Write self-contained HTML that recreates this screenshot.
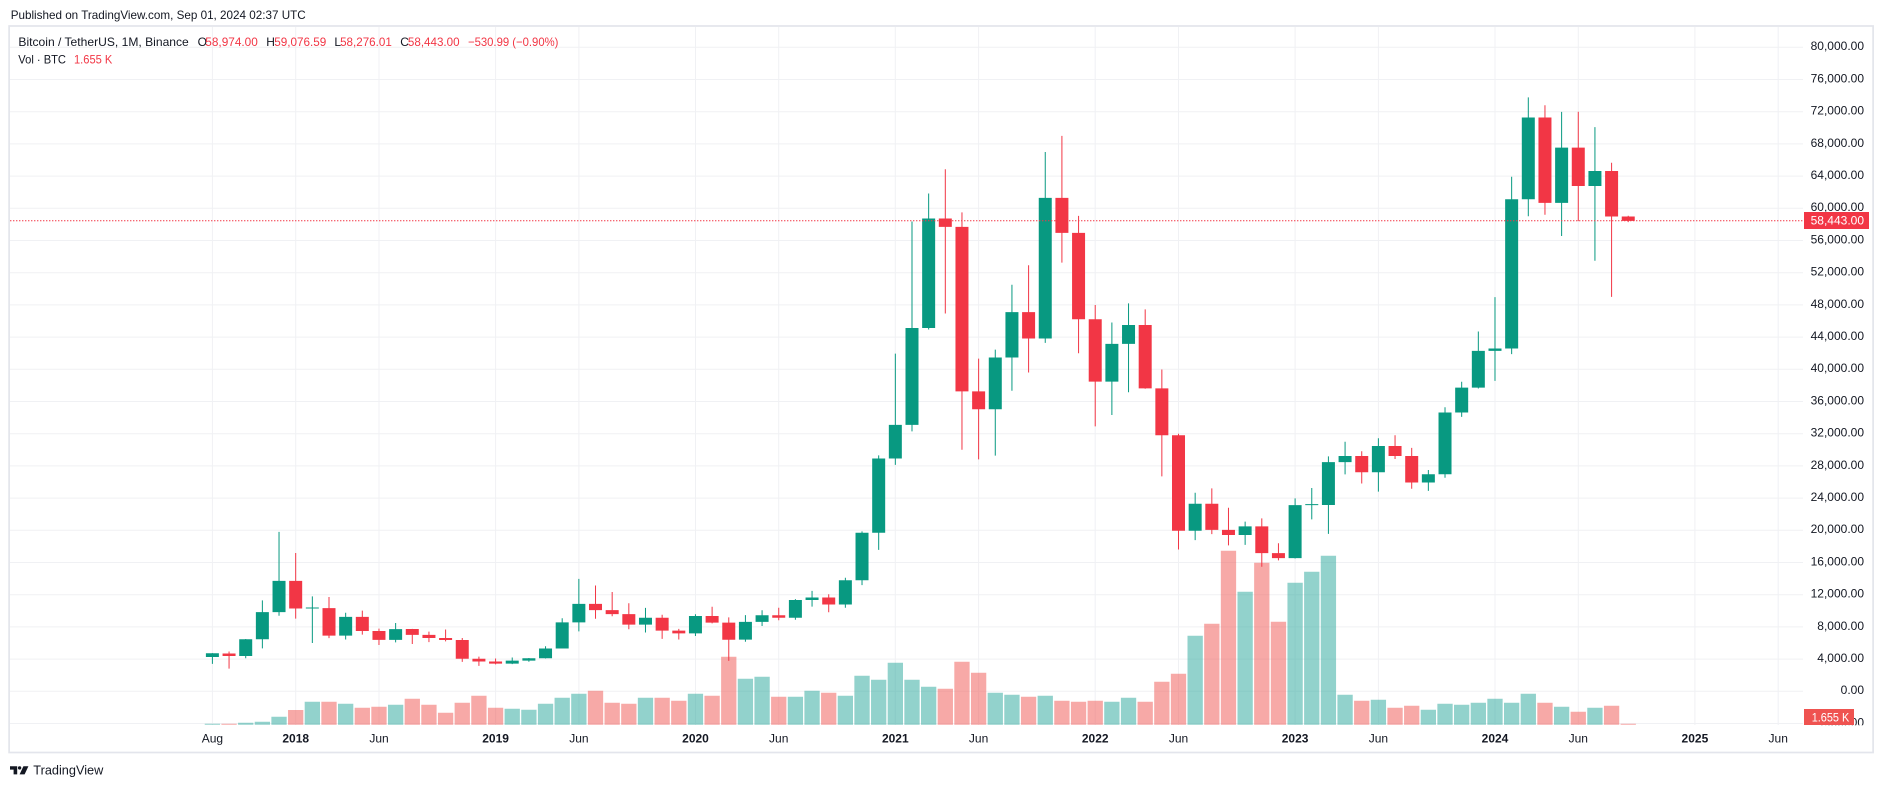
<!DOCTYPE html>
<html><head><meta charset="utf-8"><style>
html,body{margin:0;padding:0;background:#fff}
svg{display:block}
text{font-family:"Liberation Sans",Arial,sans-serif;font-size:12px;fill:#131722}
.p path,.v path{vector-effect:non-scaling-stroke;fill:none;stroke-linecap:butt}
.w{stroke-width:1px}
.b{stroke-width:13px}
.v path{stroke-width:15.3px}
.r{fill:#f23645}
.yr{font-weight:bold}
</style></head><body>
<svg width="1883" height="788" viewBox="0 0 1883 788" xmlns="http://www.w3.org/2000/svg">
<rect width="1883" height="788" fill="#fff"/>
<defs><clipPath id="ax"><rect x="1803" y="27" width="70" height="698.3"/></clipPath>
<clipPath id="pn"><rect x="10" y="27" width="1793" height="698.3"/></clipPath></defs>

<text x="10.7" y="19" textLength="295" lengthAdjust="spacingAndGlyphs">Published on TradingView.com, Sep 01, 2024 02:37 UTC</text>

<!-- grid -->
<path stroke="#f0f1f4" stroke-width="1" fill="none" d="M10 47.3H1803M10 79.5H1803M10 111.7H1803M10 143.9H1803M10 176.1H1803M10 208.3H1803M10 240.5H1803M10 272.7H1803M10 304.9H1803M10 337.1H1803M10 369.3H1803M10 401.5H1803M10 433.7H1803M10 465.9H1803M10 498.1H1803M10 530.3H1803M10 562.5H1803M10 594.7H1803M10 626.9H1803M10 659.1H1803M10 691.3H1803M10 723.5H1803
M212.4 27V725M295.7 27V725M379 27V725M495.6 27V725M578.9 27V725M695.5 27V725M778.7 27V725M895.3 27V725M978.6 27V725M1095.2 27V725M1178.5 27V725M1295.1 27V725M1378.4 27V725M1495 27V725M1578.3 27V725M1694.9 27V725M1778.2 27V725"/>

<g clip-path="url(#pn)">
<!-- volume -->
<g class="v" transform="matrix(16.657 0 0 1 212.4 724.7)">
<path stroke="rgba(38,166,154,0.5)" d="M0 0v-1M2 0v-2M3 0v-3M4 0v-8M6 0v-23M8 0v-21M11 0v-20M18 0v-16M19 0v-15M20 0v-21M21 0v-27M22 0v-31M26 0v-27M29 0v-31M32 0v-46M33 0v-48M35 0v-28M36 0v-34M38 0v-29M39 0v-49M40 0v-45M41 0v-62M42 0v-45M43 0v-38M47 0v-32M48 0v-30M50 0v-29M54 0v-23M55 0v-27M59 0v-89M62 0v-133M65 0v-142M66 0v-153M67 0v-169M68 0v-30M70 0v-25M73 0v-15M74 0v-21M75 0v-20M76 0v-22M77 0v-26M78 0v-22M79 0v-31M81 0v-18M83 0v-17"/>
<path stroke="rgba(239,83,80,0.5)" d="M1 0v-1M5 0v-14.7M7 0v-23M9 0v-17M10 0v-18M12 0v-26M13 0v-20M14 0v-12M15 0v-22M16 0v-29M17 0v-17M23 0v-34M24 0v-22M25 0v-21M27 0v-27M28 0v-24M30 0v-29M31 0v-68M34 0v-28M37 0v-32M44 0v-36M45 0v-63M46 0v-52M49 0v-28M51 0v-24M52 0v-23M53 0v-24M56 0v-23M57 0v-43M58 0v-51M60 0v-101M61 0v-174M63 0v-162M64 0v-103M69 0v-24M71 0v-17M72 0v-19M80 0v-22M82 0v-13M84 0v-19M85 0v-1"/>
</g>

<!-- candles -->
<g class="p" transform="matrix(16.657 0 0 -0.00805 212.4 691.3)">
<g stroke="#089981">
<path class="w" d="M0 3400V4745.42M2 4110V6498.01M3 5325.01V11300.03M4 9380V19798.68M6 6000.01V11786.01M8 6430V9759.82M11 6070V8491.77M18 3373.1V4198M19 3670.69V4140M20 4067V5600M21 5316.2V9074.26M22 7444.58V13970M26 7300V10370M29 6871.04V9578M32 6150.11V9460M33 8117V10067M35 8893.03V11444M36 10518.5V12468M38 10374V14100M39 13195.05V19863.16M40 17572.33V29300M41 28130V41950M42 32296.16V58352.8M43 44950.53V61844M47 29278V42448M48 37332.7V50500M50 43283.03V67000M54 34322.28V45821M55 37155V48189.84M59 18781.34V24668M62 18190V21085M65 16499.01V23960.54M66 21351.07V25250M67 19549.09V29184.68M68 26942.82V31000M70 24800V31431.94M73 24901V27483.57M74 26521.32V35280M75 34097.39V38450M76 37615.86V44700M77 38555V48969.48M78 41884.64V63913.13M79 59005V73777M81 56552.82V71979M83 53485.93V70079.99"/>
<path class="b" d="M0 4261.48V4724.89M2 4378.49V6463M3 6463V9838.96M4 9837V13716.36M6 10285.1V10410M8 6922V9246.01M11 6391.08V7730.93M18 3434.1V3813.69M19 3814.26V4103.95M20 4102.44V5320.81M21 5321.94V8555M22 8555V10854.1M26 8289.97V9140.86M29 7195.24V9352.89M32 6412.14V8620M33 8620V9448.27M35 9138.08V11335.46M36 11335.46V11649.51M38 10776.59V13791M39 13791V19695.87M40 19695.87V28923.63M41 28923.63V33092.98M42 33092.97V45135.66M43 45134.11V58740.55M47 35045V41461.83M48 41461.84V47100.89M50 43820.01V61299.8M54 38466.9V43160M55 43160V45510.34M59 19942.21V23293.32M62 19422.61V20490.74M65 16541.77V23125.13M66 23125.13V23250M67 23141.57V28465.36M68 28465.36V29233.21M70 27210.36V30472M73 25940.77V26962.56M74 26962.57V34639.77M75 34639.78V37723.96M76 37723.97V42283.58M77 42283.58V42582.88M78 42582.88V61130.98M79 61130.99V71280.01M81 60672.01V67540.01M83 62772.01V64628"/>
</g>
<g stroke="#f23645">
<path class="w" d="M1 2817V4939.19M5 9035V17176.24M7 6600.1V11710M9 7032.95V10020M10 5750V7786.69M12 5880V7750M13 6111V7410M14 6205V7680M15 3652.66V6615.15M16 3156.26V4313.55M17 3349.92V4069.8M23 9010V13147.08M24 9320V12330.7M25 7710V10939.99M27 6515V9513.68M28 6435V7750M30 8445V10500M31 3782.13V9188M34 8833V10380M37 9825V12050.85M44 46930V64854M45 30000V59500M46 28805V41330M49 39600V52920M51 53256.64V69000M52 42000.3V59053.55M53 32917.17V47990M56 37578.2V47444.11M57 26700V39980M58 17622V31986.1M60 19520V25211.32M61 18125.98V22799M63 15476V21480.65M64 16256.3V18387.95M69 25811.46V29820.13M71 28861.9V31804.2M72 25166V30244M80 59191.6V72797.99M82 58402V71997.02M84 49000V65659.78M85 58276.01V59076.59"/>
<path class="b" d="M1 4689.89V4378.51M5 13715.65V10285.1M7 10325.64V6923.91M9 9246.01V7485.01M10 7485.01V6390.07M12 7735.67V7011.21M13 7011.21V6626.57M14 6626.57V6371.93M15 6369.52V4041.32M16 4041.27V3702.9M17 3701.23V3434.1M23 10854.1V10080.53M24 10080.53V9588.74M25 9588.74V8289.34M27 9140.85V7541.89M28 7540.63V7195.23M30 9351.71V8523.61M31 8523.61V6410.44M34 9448.27V9138.55M37 11649.51V10776.59M44 58739.46V57694.27M45 57697.25V37253.81M46 37254.24V35045M49 47100.89V43824.1M51 61300V56950.56M52 56950.56V46216.93M53 46216.93V38466.9M56 45510.35V37630.8M57 37630.8V31801.04M58 31801.05V19942.21M60 23296.36V20050.02M61 20048.44V19422.61M63 20490.74V17164.5M64 17165.53V16542.4M69 29233.2V27210.35M71 30471.99V29232.25M72 29232.26V25940.78M80 71280V60672M82 67540.01V62772.01M84 64628.01V58973.99M85 58974V58443"/>
</g>
</g>
</g>

<!-- last price dotted line -->
<path d="M10 220.8H1803" stroke="#f23645" stroke-width="1" stroke-dasharray="1.4 1.6" fill="none"/>

<!-- legend -->
<text x="18.4" y="46" textLength="170.4" lengthAdjust="spacingAndGlyphs">Bitcoin / TetherUS, 1M, Binance</text>
<text x="197.6" y="46">O</text><text class="r" x="205.3" y="46" textLength="52.5" lengthAdjust="spacingAndGlyphs">58,974.00</text>
<text x="266.2" y="46">H</text><text class="r" x="274.2" y="46" textLength="52.1" lengthAdjust="spacingAndGlyphs">59,076.59</text>
<text x="334.4" y="46">L</text><text class="r" x="340.1" y="46" textLength="51.7" lengthAdjust="spacingAndGlyphs">58,276.01</text>
<text x="400.2" y="46">C</text><text class="r" x="407.9" y="46" textLength="51.7" lengthAdjust="spacingAndGlyphs">58,443.00</text>
<text class="r" x="468" y="46" textLength="90.4" lengthAdjust="spacingAndGlyphs">−530.99 (−0.90%)</text>
<text x="18.3" y="63.3" textLength="47.7" lengthAdjust="spacingAndGlyphs">Vol · BTC</text>
<text class="r" x="74" y="63.3" textLength="38.3" lengthAdjust="spacingAndGlyphs">1.655 K</text>

<!-- price axis -->
<g text-anchor="end">
<text x="1864" y="50.2">80,000.00</text>
<text x="1864" y="82.4">76,000.00</text>
<text x="1864" y="114.6">72,000.00</text>
<text x="1864" y="146.8">68,000.00</text>
<text x="1864" y="179">64,000.00</text>
<text x="1864" y="211.2">60,000.00</text>
<text x="1864" y="243.4">56,000.00</text>
<text x="1864" y="275.6">52,000.00</text>
<text x="1864" y="307.8">48,000.00</text>
<text x="1864" y="340">44,000.00</text>
<text x="1864" y="372.2">40,000.00</text>
<text x="1864" y="404.4">36,000.00</text>
<text x="1864" y="436.6">32,000.00</text>
<text x="1864" y="468.8">28,000.00</text>
<text x="1864" y="501">24,000.00</text>
<text x="1864" y="533.2">20,000.00</text>
<text x="1864" y="565.4">16,000.00</text>
<text x="1864" y="597.6">12,000.00</text>
<text x="1864" y="629.8">8,000.00</text>
<text x="1864" y="662">4,000.00</text>
<text x="1864" y="694.2">0.00</text>
<text x="1864" y="726.4" clip-path="url(#ax)">−4,000.00</text>
</g>

<!-- last price label -->
<rect x="1804" y="212" width="65" height="17" fill="#f23645"/>
<text x="1864" y="224.5" text-anchor="end" style="fill:#fff">58,443.00</text>
<!-- volume label -->
<rect x="1804" y="709" width="50" height="16" fill="#ef5350"/>
<text x="1811.7" y="721.5" style="fill:#fff" textLength="37.6" lengthAdjust="spacingAndGlyphs">1.655 K</text>

<!-- time axis -->
<g text-anchor="middle">
<text x="212.4" y="742.7">Aug</text>
<text class="yr" x="295.7" y="742.7">2018</text>
<text x="379" y="742.7">Jun</text>
<text class="yr" x="495.6" y="742.7">2019</text>
<text x="578.9" y="742.7">Jun</text>
<text class="yr" x="695.5" y="742.7">2020</text>
<text x="778.7" y="742.7">Jun</text>
<text class="yr" x="895.3" y="742.7">2021</text>
<text x="978.6" y="742.7">Jun</text>
<text class="yr" x="1095.2" y="742.7">2022</text>
<text x="1178.5" y="742.7">Jun</text>
<text class="yr" x="1295.1" y="742.7">2023</text>
<text x="1378.4" y="742.7">Jun</text>
<text class="yr" x="1495" y="742.7">2024</text>
<text x="1578.3" y="742.7">Jun</text>
<text class="yr" x="1694.9" y="742.7">2025</text>
<text x="1778.2" y="742.7">Jun</text>
</g>

<!-- frame -->
<rect x="9.1" y="26" width="1864" height="726.5" fill="none" stroke="#e3e5ec" stroke-width="1.7"/>

<!-- logo -->
<g fill="#131722">
<path d="M10 766.2H17.2V774.4H13.6V769.6H10Z"/>
<circle cx="19.6" cy="767.9" r="1.7"/>
<path d="M23.4 766.2H28.4L24.6 774.4H19.6Z"/>
</g>
<text x="33.3" y="774.4" style="font-size:13px" textLength="70" lengthAdjust="spacingAndGlyphs">TradingView</text>
</svg>
</body></html>
